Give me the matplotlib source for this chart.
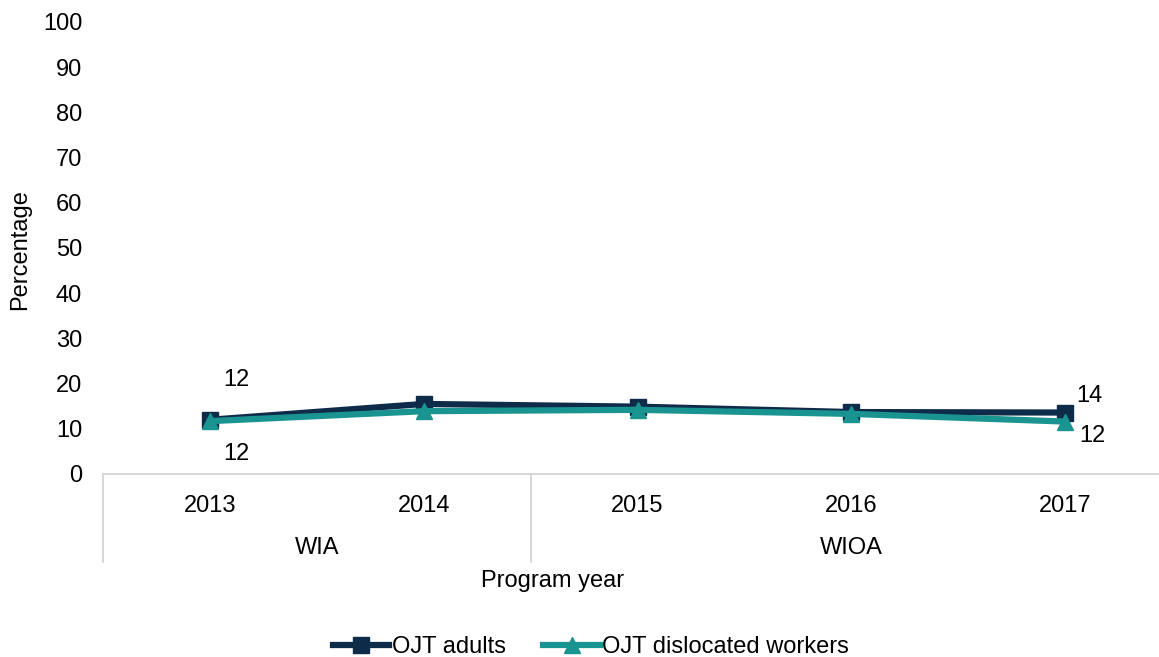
import matplotlib
matplotlib.use("Agg")
import matplotlib.pyplot as plt
import matplotlib.transforms as mtransforms

plt.rcParams['font.family'] = ['Liberation Sans', 'DejaVu Sans']

years = ["2013", "2014", "2015", "2016", "2017"]
groups = ["WIA", "WIOA"]
group_spans = [(0, 1), (2, 4)]
adults = [12.0, 15.5, 14.9, 13.7, 13.6]
dislocated = [11.7, 13.9, 14.2, 13.3, 11.6]
series_names = ["OJT adults", "OJT dislocated workers"]
yticks = [0, 10, 20, 30, 40, 50, 60, 70, 80, 90, 100]

navy = "#0f2b4a"
teal = "#1a9490"
FS = 17

fig = plt.figure(figsize=(11.59, 6.57), dpi=100)
ax = fig.add_axes([103/1159, 1-474/657, (1172-103)/1159, (474-22)/657])

x = list(range(len(years)))
ax.plot(x, adults, color=navy, lw=4.5, marker='s', ms=12, label=series_names[0], zorder=3)
ax.plot(x, dislocated, color=teal, lw=4.5, marker='^', ms=12, label=series_names[1], zorder=4)

ax.set_xlim(-0.5, len(years) - 0.5)
ax.set_ylim(0, 100)
ax.set_yticks(yticks)
ax.set_yticklabels([str(t) for t in yticks], fontsize=FS)
ax.tick_params(axis='y', length=0, pad=15)
ax.set_xticks(x)
ax.set_xticklabels(years, fontsize=FS)
ax.tick_params(axis='x', length=0, pad=15)

for s in ['top', 'right', 'left']:
    ax.spines[s].set_visible(False)
ax.spines['bottom'].set_color('#d0d0d0')
ax.spines['bottom'].set_linewidth(1.2)

trans = mtransforms.blended_transform_factory(ax.transData, ax.transAxes)
sep_bottom = -(562-474)/452
for xs in [-0.5, 1.5, 4.5]:
    ax.plot([xs, xs], [0, sep_bottom], transform=trans, color='#d0d0d0', lw=1.2, clip_on=False)
for g, (a, b) in zip(groups, group_spans):
    ax.text((a + b) / 2, -(548-474)/452, g, transform=trans, ha='center', va='center', fontsize=FS)

fig.text(553/1159, 1-581/657, "Program year", ha='center', va='center', fontsize=FS)
fig.text(20/1159, 1-250/657, "Percentage", ha='center', va='center', rotation=90, fontsize=FS)

# data labels
ax.annotate(f"{adults[0]:.0f}", (0, adults[0]), xytext=(26, 40), textcoords='offset pixels',
            ha='center', va='center', fontsize=FS)
ax.annotate(f"{dislocated[0]:.0f}", (0, dislocated[0]), xytext=(26, -33), textcoords='offset pixels',
            ha='center', va='center', fontsize=FS)
ax.annotate(f"{adults[4]:.0f}", (4, adults[4]), xytext=(24, 17), textcoords='offset pixels',
            ha='center', va='center', fontsize=FS)
ax.annotate(f"{dislocated[4]:.0f}", (4, dislocated[4]), xytext=(27, -14), textcoords='offset pixels',
            ha='center', va='center', fontsize=FS)

fig.legend(loc='center', bbox_to_anchor=(591/1159, 1-647/657), ncol=2, frameon=False,
           fontsize=FS, handlelength=2.4, handletextpad=0.1, columnspacing=1.6)

fig.savefig("out.png", dpi=100)
